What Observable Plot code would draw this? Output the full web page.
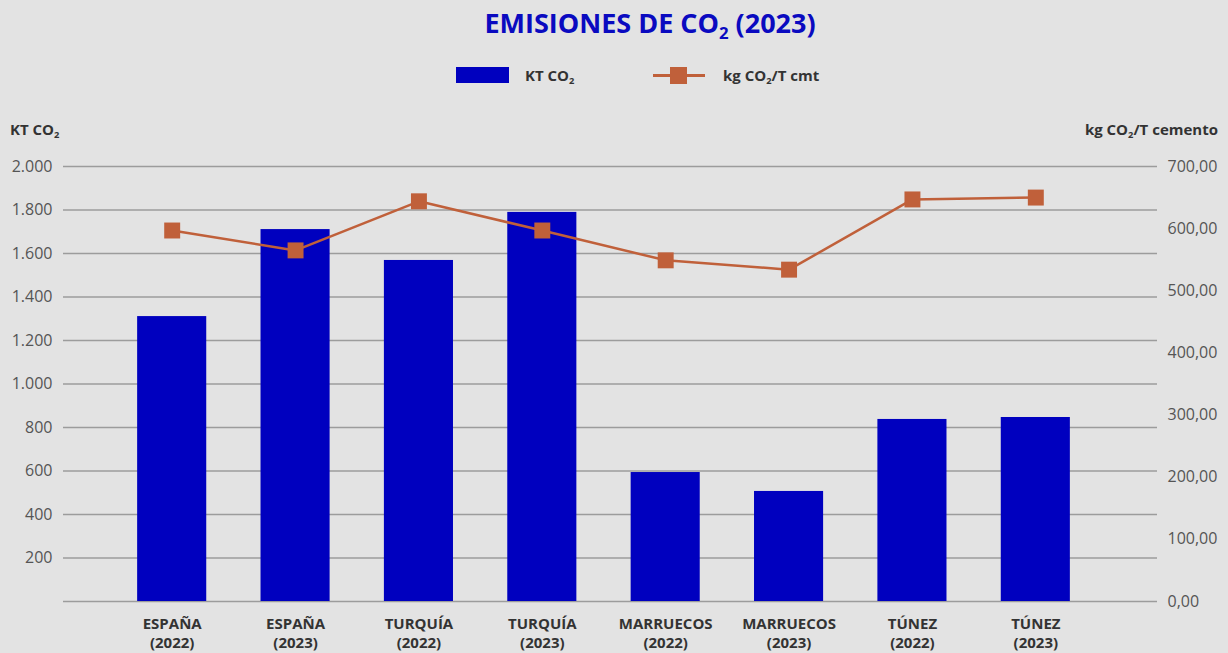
<!DOCTYPE html>
<html>
<head>
<meta charset="utf-8">
<script src="https://cdn.jsdelivr.net/npm/d3@7"></script>
<script src="https://cdn.jsdelivr.net/npm/@observablehq/plot@0.6"></script>
<style>
  html, body { margin: 0; padding: 0; background: #e3e3e3; }
  body { width: 1228px; height: 653px; overflow: hidden; font-family: "Open Sans", "Noto Sans", sans-serif; }
  #header { position: relative; width: 1228px; height: 145px; }
  .abs { position: absolute; white-space: nowrap; }
  #title { left: 0; width: 1300px; text-align: center; top: 4px; font-size: 27px; font-weight: 700; color: #0a0ac0; }
  .lab { font-size: 15px; font-weight: 700; color: #333; line-height: 18px; }
  sub { font-size: 0.62em; vertical-align: -0.35em; line-height: 0; }
  #chart svg { display: block; }
</style>
</head>
<body>
<div id="header">
  <div id="title" class="abs">EMISIONES DE CO<sub>2</sub> (2023)</div>
  <div class="abs" style="left:456px; top:67px; width:53px; height:16px; background:#0000bf;"></div>
  <div class="abs lab" style="left:525px; top:66px;">KT CO<sub>2</sub></div>
  <div class="abs" style="left:653px; top:74px; width:52px; height:3px; background:#c0603a;"></div>
  <div class="abs" style="left:670px; top:67px; width:17px; height:17px; background:#c0603a;"></div>
  <div class="abs lab" style="left:723px; top:66px;">kg CO<sub>2</sub>/T cmt</div>
  <div class="abs lab" style="left:10px; top:120px;">KT CO<sub>2</sub></div>
  <div class="abs lab" style="right:10px; top:120px;">kg CO<sub>2</sub>/T cemento</div>
</div>
<div id="chart"></div>
<script>
const categories = ["ESPAÑA\n(2022)", "ESPAÑA\n(2023)", "TURQUÍA\n(2022)", "TURQUÍA\n(2023)", "MARRUECOS\n(2022)", "MARRUECOS\n(2023)", "TÚNEZ\n(2022)", "TÚNEZ\n(2023)"];
const ktCO2 = [1310, 1710, 1568, 1789, 593, 506, 837, 846];
const kgCO2PerT = [597, 565, 644, 597, 549, 534, 647, 650];
const leftTicks = [200, 400, 600, 800, 1000, 1200, 1400, 1600, 1800, 2000];
const rightTicks = [0, 100, 200, 300, 400, 500, 600, 700];
const gridValues = [0, 200, 400, 600, 800, 1000, 1200, 1400, 1600, 1800, 2000];

const leftMax = 2000, rightMax = 700;
const k = leftMax / rightMax;

const locale = d3.formatLocale({decimal: ",", thousands: ".", grouping: [3], currency: ["", "€"]});
const fmtLeft = locale.format(",.0f");
const fmtRight = locale.format(",.2f");

const data = categories.map((c, i) => ({cat: c, kt: ktCO2[i], kg: kgCO2PerT[i]}));

const chart = Plot.plot({
  width: 1228,
  height: 508,
  marginTop: 21,
  marginBottom: 52,
  marginLeft: 63,
  marginRight: 71,
  style: {background: "transparent", fontFamily: "'Open Sans', 'Noto Sans', sans-serif", overflow: "visible"},
  x: {domain: categories, insetLeft: 47, insetRight: 60, paddingInner: 0.44, paddingOuter: 0.22, round: false, label: null},
  y: {domain: [0, leftMax], label: null},
  marks: [
    Plot.ruleY(gridValues, {stroke: "#9c9c9c", strokeWidth: 1.5}),
    Plot.barY(data, {x: "cat", y: "kt", fill: "#0000bf"}),
    Plot.line(data, {x: "cat", y: d => d.kg * k, stroke: "#c0603a", strokeWidth: 2.5}),
    Plot.dot(data, {x: "cat", y: d => d.kg * k, symbol: "square", r: 9, fill: "#c0603a", stroke: null}),
    Plot.axisY(leftTicks, {anchor: "left", tickSize: 0, tickPadding: 11, tickFormat: fmtLeft, fontSize: 16, fill: "#555", label: null}),
    Plot.axisY(rightTicks.map(v => v * k), {anchor: "right", tickSize: 0, tickPadding: 10, tickFormat: d => fmtRight(d / k), fontSize: 16, fill: "#555", label: null}),
    Plot.axisX({tickSize: 0, tickPadding: 14, fontSize: 15, fontWeight: 700, fill: "#333", lineHeight: 1.25, label: null})
  ]
});
document.getElementById("chart").appendChild(chart);
</script>
</body>
</html>
